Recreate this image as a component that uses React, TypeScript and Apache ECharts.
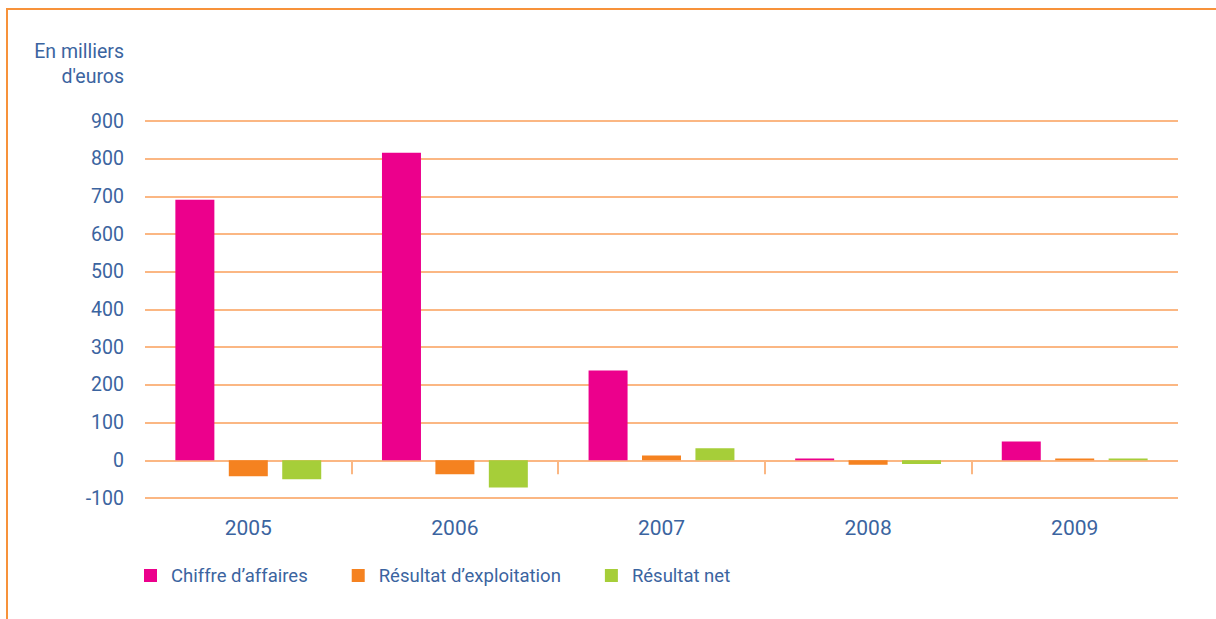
import React, { useEffect, useRef } from "react";
import * as echarts from "echarts";

const categories = ["2005", "2006", "2007", "2008", "2009"];
const chiffreAffaires = [691, 816, 238, 5, 50];
const resultatExploitation = [-42, -37, 13, -12, 5];
const resultatNet = [-50, -72, 32, -10, 5];
const boundarySlots = ["", "", "", "", "", ""];

const seriesNames = ["Chiffre d’affaires", "Résultat d’exploitation", "Résultat net"];
const seriesColors = ["#ec008c", "#f58220", "#a6ce39"];

const TEXT = "#3b64a0";
const GRID = "#fbb783";
const FONT = "Roboto, 'Noto Sans', sans-serif";

export default function App() {
  const ref = useRef<HTMLDivElement>(null);

  useEffect(() => {
    if (!ref.current) return;
    const chart = echarts.init(ref.current, undefined, { renderer: "svg" });
    const values = [chiffreAffaires, resultatExploitation, resultatNet];
    chart.setOption({
      animation: false,
      textStyle: { fontFamily: FONT },
      grid: { left: 145, right: 38, top: 121, bottom: 121 },
      legend: {
        data: seriesNames,
        left: 144,
        top: 566,
        padding: 0,
        icon: "rect",
        itemWidth: 13,
        itemHeight: 13,
        itemGap: 44,
        textStyle: {
          color: TEXT,
          fontSize: 18.5,
          lineHeight: 13,
          fontFamily: FONT,
          padding: [0, 0, 0, 9],
        },
      },
      graphic: [
        {
          type: "text",
          x: 124,
          y: 39,
          style: {
            text: "En milliers\nd'euros",
            align: "right",
            fill: TEXT,
            fontSize: 19.5,
            lineHeight: 25,
            fontFamily: FONT,
          },
        },
      ],
      xAxis: [
        {
          type: "category",
          data: categories,
          axisLine: { show: false, onZero: false },
          axisTick: { show: false },
          axisLabel: { color: TEXT, fontSize: 21, margin: 19, fontFamily: FONT },
          splitLine: { show: false },
        },
        {
          type: "category",
          data: boundarySlots,
          boundaryGap: false,
          position: "bottom",
          axisLine: { show: false, onZero: true, onZeroAxisIndex: 0 },
          axisLabel: { show: false },
          axisTick: {
            show: true,
            length: 14,
            interval: (i: number) => i > 0 && i < boundarySlots.length - 1,
            lineStyle: { color: GRID, width: 2 },
          },
          splitLine: { show: false },
        },
      ],
      yAxis: {
        type: "value",
        min: -100,
        max: 900,
        interval: 100,
        axisLine: { show: false },
        axisTick: { show: false },
        axisLabel: { color: TEXT, fontSize: 19.5, margin: 21, fontFamily: FONT },
        splitLine: { lineStyle: { color: GRID, width: 2 } },
      },
      series: seriesNames.map((name, i) => ({
        name,
        type: "bar",
        xAxisIndex: 0,
        data: values[i],
        barWidth: 39,
        barGap: "37%",
        itemStyle: { color: seriesColors[i] },
      })),
    });
    return () => chart.dispose();
  }, []);

  return (
    <div style={{ position: "fixed", left: 0, top: 0, width: 1216, height: 619, background: "#fff" }}>
      <div
        style={{
          position: "absolute",
          left: 6,
          top: 8,
          right: 0,
          bottom: 0,
          borderTop: "2px solid #f7923a",
          borderLeft: "2px solid #f7923a",
        }}
      />
      <div ref={ref} style={{ position: "absolute", left: 0, top: 0, width: 1216, height: 619 }} />
    </div>
  );
}
